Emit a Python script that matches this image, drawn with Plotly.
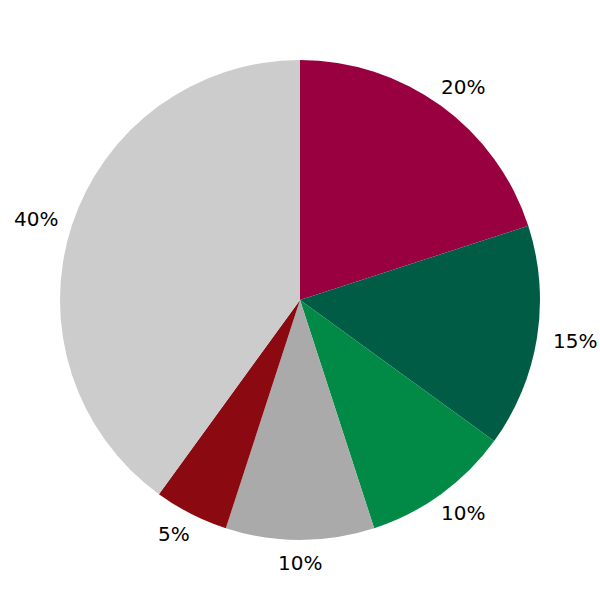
import math
import plotly.graph_objects as go

labels = ["A", "B", "C", "D", "E", "F"]
values = [20, 15, 10, 10, 5, 40]
colors = ["#990040", "#005c45", "#008a45", "#aaaaaa", "#8b0a12", "#cccccc"]

# geometry (screen pixels)
W = H = 600
CX, CY, R = 300, 300, 240
LRX, LRY = 278, 263  # label radii (x, y)

fig = go.Figure(go.Pie(
    labels=labels,
    values=values,
    sort=False,
    direction="clockwise",
    rotation=0,
    marker=dict(colors=colors, line=dict(width=0)),
    textinfo="none",
    hoverinfo="label+percent",
    domain=dict(x=[(CX - R) / W, (CX + R) / W],
                y=[1 - (CY + R) / H, 1 - (CY - R) / H]),
    showlegend=False,
))

total = sum(values)
cum = 0
annotations = []
for v in values:
    mid = (cum + v / 2) / total * 2 * math.pi
    cum += v
    px = CX + LRX * math.sin(mid)
    py = CY - LRY * math.cos(mid)
    annotations.append(dict(
        x=px / W, y=1 - py / H, xref="paper", yref="paper",
        text=f"{round(v / total * 100)}%", showarrow=False,
        xanchor="center", yanchor="middle",
        font=dict(family="DejaVu Sans", size=20, color="black"),
    ))

fig.update_layout(
    width=W, height=H,
    margin=dict(l=0, r=0, t=0, b=0),
    paper_bgcolor="white",
    plot_bgcolor="white",
    showlegend=False,
    annotations=annotations,
)
fig.write_html(
    "out.html",
    config={"displayModeBar": False},
    post_script="document.body.style.margin='0';document.body.style.overflow='hidden';",
)
